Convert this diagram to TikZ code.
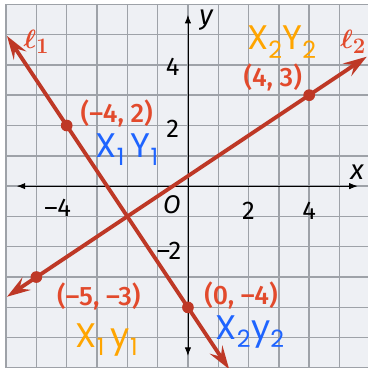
\documentclass[tikz,border=0pt]{standalone}
\usepackage{fontspec}
\setmainfont{Fira Sans}
\newfontfamily\labfont{Fira Sans Medium}
\newfontfamily\penfont{Poppins}
\usetikzlibrary{arrows.meta}

\definecolor{linered}{RGB}{190,56,38}
\definecolor{labelred}{RGB}{226,74,44}
\definecolor{gridbg}{RGB}{238,240,244}
\definecolor{gridgray}{RGB}{158,162,168}
\definecolor{penblue}{RGB}{30,100,255}
\definecolor{penorange}{RGB}{255,165,0}

\tikzset{
    gridline/.style={gridgray, line width=1.4pt},
    axis/.style={black, line width=0.8pt, {Latex[length=8pt,width=6pt]}-{Latex[length=8pt,width=6pt]}},
    graphline/.style={linered, line width=3.6pt, {Stealth[length=22pt,width=14pt,inset=8pt]}-{Stealth[length=22pt,width=14pt,inset=8pt]}},
    dot/.style={circle, fill=linered, inner sep=0pt, minimum size=11pt},
    coordlabel/.style={labelred, inner sep=1pt, font=\labfont\fontsize{25}{30}\selectfont},
    ticklabel/.style={font=\fontsize{24}{28}\selectfont},
    linelabel/.style={labelred, font=\fontsize{30}{34}\selectfont\boldmath},
    pen/.style={inner sep=0pt, font=\penfont\fontsize{32}{36}\selectfont}
}

\begin{document}
\begin{tikzpicture}
    \useasboundingbox (-6.2,-6.0) rectangle (5.94,6.14);
    \fill[white] (-6.2,-6.0) rectangle (5.94,6.14);
    \fill[gridbg] (-6,-6) rectangle (6,6);
    \draw[gridline] (-6,-6) grid (6,6);
    % axes
    \coordinate (xl) at (-5.65,0);
    \coordinate (xr) at (5.6,0);
    \coordinate (yb) at (0,-5.6);
    \coordinate (yt) at (0,5.65);
    \draw[axis] (xl) -- (xr);
    \draw[axis] (yb) -- (yt);
    \node[font=\fontsize{26}{30}\selectfont\itshape] (xlab) at (5.58,0.46) {x};
    \node[font=\fontsize{26}{30}\selectfont\itshape] (ylab) at (0.6,5.48) {y};
    \node[font=\fontsize{24}{28}\selectfont\itshape] (o) at (-0.53,-0.6) {O};
    \node[ticklabel] (t4y) at (-0.5,3.93) {4};
    \node[ticklabel] (t2y) at (-0.5,1.9) {2};
    \node[ticklabel] (tm2y) at (-0.62,-2.15) {–2};
    \node[ticklabel] (tm4x) at (-4.3,-0.73) {–4};
    \node[ticklabel] (t2x) at (2.0,-0.8) {2};
    \node[ticklabel] (t4x) at (4.0,-0.8) {4};
    % the two lines
    \coordinate (l1top) at (-5.97,4.955);
    \coordinate (l1bot) at (1.36,-6.04);
    \coordinate (l2left) at (-5.97,-3.65);
    \coordinate (l2right) at (5.9,4.27);
    \draw[graphline] (l1top) -- (l1bot);
    \draw[graphline] (l2left) -- (l2right);
    \node[linelabel] (ell1) at (-5.0,4.75) {$\ell_1$};
    \node[linelabel] (ell2) at (5.45,4.75) {$\ell_2$};
    % points
    \node[dot] (p1) at (-4,2) {};
    \node[dot] (p2) at (4,3) {};
    \node[dot] (p3) at (-5,-3) {};
    \node[dot] (p4) at (0,-4) {};
    \node[coordlabel] (p1lab) at (-2.35,2.4) {(–4, 2)};
    \node[coordlabel] (p2lab) at (2.8,3.6) {(4, 3)};
    \node[coordlabel] (p3lab) at (-2.94,-3.63) {(–5, –3)};
    \node[coordlabel] (p4lab) at (1.75,-3.6) {(0, –4)};
    % hand notes
    \node[pen, penblue] (n1) at (-2.0,1.2) {X\textsubscript{1}\,Y\textsubscript{1}};
    \node[pen, penorange] (n2) at (3.1,4.75) {X\textsubscript{2}Y\textsubscript{2}};
    \node[pen, penorange] (n3) at (-2.67,-5.08) {X\textsubscript{1}\,y\textsubscript{1}};
    \node[pen, penblue] (n4) at (2.05,-4.8) {X\textsubscript{2}y\textsubscript{2}};
\end{tikzpicture}
\end{document}
